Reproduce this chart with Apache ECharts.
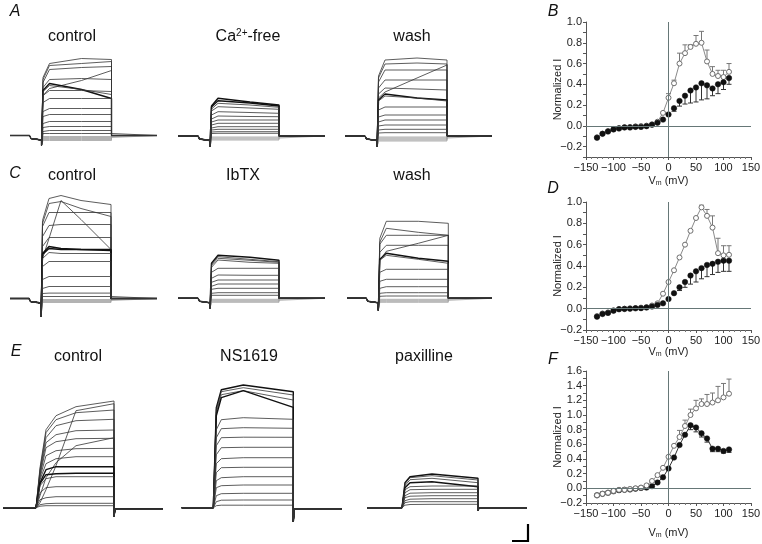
<!DOCTYPE html>
<html>
<head>
<meta charset="utf-8">
<script src="https://cdn.jsdelivr.net/npm/echarts@6/dist/echarts.min.js"></script>
<style>
html,body{margin:0;padding:0;background:#fff}
#chart{width:762px;height:544px}
</style>
</head>
<body>
<div id="chart"></div>
<script>
// ---- current traces: each row = one sweep, values at the panel's sample times ----
var timesA = [1.5, 8, 40, 70];
var timesC = [1.5, 8, 20, 40, 70];
var timesE = [4, 10, 20, 40, 78];
var timesNS = [3, 8, 30, 80];
var timesPax = [3, 8, 30, 76];

var tracesAControl = [
    [58,72,77,76],[56,70,72,74],[53,66,68,69],[48,56,57,56],[40,47,55,65],
    [45,52,46,37],[44,50,46,41],[40,45,45,44],[33,37,37,37],[24,27,27,27],
    [19,21,21,21],[12,14,14,14],[8,9,9,9],[4,5,5,5],[2,2,2,2],
    [-1,-1,-1,-1],[-2,-2,-2,-2],[-3,-3,-3,-3],[-4,-4,-4,-4],[-5,-5,-5,-5]
];
var tracesCaFree = [
    [30,37.7,34,31],[29,35.3,33,30],[27,32.7,31,28.7],[25,29.3,28,26.7],[21,24.3,23.5,22.7],
    [17,20,19.5,19.3],[14,16,16,16],[11,12.7,12.7,12.7],[8,9.3,9.3,9.3],[6,6.7,6.7,6.7],
    [4,4.3,4.3,4.3],[2.5,2.7,2.7,2.7],
    [-1,-1,-1,-1],[-2,-2,-2,-2],[-3,-3,-3,-3],[-4,-4,-4,-4]
];
var tracesAWash = [
    [60,76,78,76],[58,72,73,72],[54,66,66,66],[48,56,56,56],[38,44,58,71],
    [42,48,47,46],[36,42,38,36],[35,40,38,35],[26,29,29,29],[19,21,21,21],
    [14,16,16,16],[10,11,11,11],[6,6.7,6.7,6.7],[3,3.3,3.3,3.3],
    [-1,-1,-1,-1],[-2,-2,-2,-2],[-3,-3,-3,-3],[-4,-4,-4,-4],[-5,-5,-5,-5]
];
var tracesCControl = [
    [78,100,103,98,94],[75,95,97,90,82],[40,60,98,79,49],[72,86,86,86,86],[62,73,74,74,74],
    [52,61,61,61,61],[44,50,49,49,49],[45,52,50,49,48],[40,46,45,45,45],[32,37,37,37,37],
    [19,22,22,22,22],[10,12,12,12,12],[5,5.4,5.4,5.4,5.4],[2,2,2,2,2],
    [-1,-1,-1,-1,-1],[-2,-2,-2,-2,-2],[-3,-3,-3,-3,-3],[-4,-4,-4,-4,-4]
];
var tracesIbTX = [
    [35,43,41,38],[34,41.6,39,36.6],[33,40,38,36],[31,38.3,36,35],[26,30,30,30],
    [20,23.3,23,23],[16,18.3,18.3,18.3],[12,14.3,14.3,14.3],[9,10,10,10],[5,5.6,5.6,5.6],
    [3,3,3,3],
    [-1,-1,-1,-1],[-2,-2,-2,-2],[-3,-3,-3,-3],[-4,-4,-4,-4]
];
var tracesCWash = [
    [60,77,77,75],[56,70,66,63],[54,63,63,63],[38,47,55,63],[46,53,53,53],
    [39,45,40,37],[38,43,39,35],[26,29,29,29],[17,19,19,19],[10,11.6,11.6,11.6],
    [5,5.6,5.6,5.6],[2,2.3,2.3,2.3],
    [-1,-1,-1,-1],[-2,-2,-2,-2],[-3,-3,-3,-3],[-4,-4,-4,-4]
];
var tracesEControl = [
    [40,78,92,101,106.7],[38,75,88,95,97.7],[36,70,82,87,88.4],[34,65,73,77,77.7],[32,60,66,69,69.4],
    [30,52,57,59,59.4],[28,44,49,51,51],[5,18,42,97,104],[12,30,45,62,70],[25,38,41,41,41],
    [24,33,34,34.4,34.4],[22,29,31,31,31],[15,20,21,21,21],[8,10,11,11,11],[3,4,4.4,4.4,4.4],
    [1.5,2,2,2,2]
];
var tracesNS1619 = [
    [100,118,122.7,116],[98,116,120,112.7],[95,113,117,107.7],[92,110,117,100.4],[78,88,90,88.4],
    [70,79,80,79.4],[62,70,70.5,70.4],[53,60,60.4,60.4],[44,49,50,50],[35,40,40.4,40.4],
    [27,30,31,31],[20,22,22.7,22.7],[12,14,14.4,14.4],[6,7.5,7.7,7.7],[2,2.5,2.5,2.5]
];
var tracesPaxilline = [
    [25,31,33.7,29.4],[24,30,32,27.7],[22,28,29.4,25],[20,25,26,21],[18,21,21.7,21.7],
    [15,18,18.4,18.4],[12,14.5,15,15],[10,11.5,12,12],[7,8.5,9,9],[5,6,6,6],
    [2.5,3.2,3.4,3.4]
];

// ---- I-V curves ----
var vm = [-130,-120,-110,-100,-90,-80,-70,-60,-50,-40,-30,-20,-10,0,10,20,30,40,50,60,70,80,90,100,110];

var ivBOpen   = [-0.11,-0.075,-0.05,-0.03,-0.02,-0.012,-0.01,-0.005,-0.002,0.002,0.015,0.04,0.125,0.27,0.41,0.60,0.70,0.76,0.79,0.80,0.62,0.50,0.48,0.47,0.52];
var ivBFilled = [-0.115,-0.077,-0.055,-0.035,-0.026,-0.016,-0.016,-0.01,-0.01,-0.003,0.01,0.03,0.06,0.11,0.17,0.24,0.29,0.34,0.37,0.41,0.39,0.36,0.40,0.42,0.46];
var errBOpen   = [[0,0.31],[10,0.44],[20,0.70],[30,0.78],[40,0.78],[50,0.87],[60,0.91],[70,0.73],[80,0.57],[90,0.535],[100,0.535],[110,0.60]];
var errBFilled = [[10,0.14],[20,0.19],[30,0.21],[40,0.22],[50,0.23],[60,0.25],[70,0.26],[80,0.29],[90,0.31],[100,0.35],[110,0.40]];

var ivDOpen   = [-0.07,-0.045,-0.035,-0.015,-0.003,0,0.003,0.006,0.01,0.015,0.03,0.05,0.14,0.25,0.36,0.48,0.60,0.73,0.85,0.95,0.87,0.76,0.52,0.50,0.505];
var ivDFilled = [-0.075,-0.05,-0.04,-0.02,-0.006,-0.003,0,0.003,0.005,0.01,0.02,0.035,0.05,0.09,0.145,0.20,0.25,0.31,0.35,0.38,0.41,0.42,0.44,0.45,0.45];
var errDOpen   = [[60,0.97],[70,0.93],[80,0.87],[90,0.66],[100,0.59],[110,0.59]];
var errDFilled = [[20,0.17],[30,0.20],[40,0.23],[50,0.25],[60,0.28],[70,0.30],[80,0.32],[90,0.34],[100,0.35],[110,0.35]];

var ivFOpen   = [-0.095,-0.075,-0.06,-0.035,-0.02,-0.02,-0.01,0,0.01,0.04,0.10,0.18,0.28,0.43,0.58,0.70,0.85,1.0,1.09,1.15,1.15,1.17,1.2,1.24,1.29];
var ivFFilled = [-0.095,-0.075,-0.06,-0.04,-0.025,-0.02,-0.015,-0.005,0.005,0.01,0.03,0.08,0.15,0.27,0.42,0.59,0.73,0.86,0.83,0.75,0.68,0.54,0.54,0.51,0.53];
var errFOpen   = [[20,0.79],[30,0.93],[40,1.08],[50,1.2],[60,1.22],[70,1.28],[80,1.3],[90,1.39],[100,1.43],[110,1.49]];
var errFFilled = [[40,0.80],[50,0.77],[60,0.70],[70,0.63],[80,0.50],[90,0.50],[100,0.48],[110,0.49]];

var xTicks = [-150, -100, -50, 0, 50, 100, 150];

// ---- layout ----
var FONT = '"Liberation Sans", Arial, Helvetica, sans-serif';
var preA = function(spike){ return [[-12,0],[-10.5,-3],[-9,-4.5],[0,-4.5],[0,spike]]; };
var postFlat = [[0,0]];

var tracePanels = [
    {data: tracesAControl, times: timesA, on: 41.5, x0: 10, x1: 157, base: 135.5, pre: preA(-10), post: postFlat, bold: [5]},
    {data: tracesCaFree, times: [1.5, 8, 40, 69], on: 210, x0: 178, x1: 325, base: 136, pre: preA(-11), post: postFlat, bold: [0, 1]},
    {data: tracesAWash, times: timesA, on: 377, x0: 345, x1: 492, base: 136, pre: preA(-11), post: postFlat, bold: [6]},
    {data: tracesCControl, times: timesC, on: 41, x0: 10, x1: 157, base: 298.5, pre: preA(-18), post: postFlat, bold: [6, 7]},
    {data: tracesIbTX, times: [1.5, 8, 40, 69], on: 210, x0: 178, x1: 325, base: 298.3, pre: preA(-10), post: postFlat, bold: [0]},
    {data: tracesCWash, times: timesA, on: 378.3, x0: 347, x1: 492, base: 298.3, pre: preA(-12), post: postFlat, bold: [5]},
    {data: tracesEControl, times: timesE, on: 36, x0: 3, x1: 163, base: 507.7, pre: [[0,0]], post: [[0,-9],[1,-1.5]], bold: [9, 10]},
    {data: tracesNS1619, times: timesNS, on: 213.3, x0: 181.7, x1: 342, base: 507.7, pre: [[0,0]], post: [[0,-14],[1,-1.5]], bold: [0, 3]},
    {data: tracesPaxilline, times: timesPax, on: 402, x0: 367, x1: 527, base: 507.7, pre: [[0,0]], post: [[0,-3],[1,0]], bold: [0, 3]}
];

var ivPanels = [
    {top: 22, h: 135, yMin: -0.3, yMax: 1.0, xGap: 17, open: ivBOpen, filled: ivBFilled, errOpen: errBOpen, errFilled: errBFilled, openOnTop: false, filledLine: false},
    {top: 202, h: 128, yMin: -0.2, yMax: 1.0, xGap: 15, open: ivDOpen, filled: ivDFilled, errOpen: errDOpen, errFilled: errDFilled, openOnTop: false, filledLine: false},
    {top: 371, h: 132, yMin: -0.2, yMax: 1.6, xGap: 23, open: ivFOpen, filled: ivFFilled, errOpen: errFOpen, errFilled: errFFilled, openOnTop: true, filledLine: true}
];

var grids = [], xAxes = [], yAxes = [], series = [];

function minus(s){ return String(s).replace('-', '\u2212'); }

tracePanels.forEach(function(p){
    var gi = grids.length,
        tMin = p.x0 - p.on,
        tMax = p.x1 - p.on,
        dur = p.times[p.times.length - 1];

    grids.push({left: p.x0, top: p.base - 130, width: p.x1 - p.x0, height: 155, outerBoundsMode: 'none'});
    xAxes.push({gridIndex: gi, type: 'value', min: tMin, max: tMax, show: false});
    yAxes.push({gridIndex: gi, type: 'value', min: -25, max: 130, show: false});

    p.data.forEach(function(vals, k){
        var pts = [[tMin, 0]].concat(p.pre);
        p.times.forEach(function(t, j){ pts.push([t, vals[j]]); });
        p.post.forEach(function(q){ pts.push([dur + q[0], q[1]]); });
        pts.push([tMax, p.post[p.post.length - 1][1]]);

        var neg = vals[0] < 0,
            bold = p.bold.indexOf(k) >= 0;
        series.push({
            type: 'line', xAxisIndex: gi, yAxisIndex: gi, data: pts,
            symbol: 'none', silent: true, animation: false, z: neg ? 1 : 2,
            lineStyle: {width: bold ? 1.4 : 0.8, color: neg ? '#a0a0a0' : (bold ? '#111' : '#333')}
        });
    });
});

function pairs(ys){ return vm.map(function(v, i){ return [v, ys[i]]; }); }

function errSeries(gi, errs, means, color){
    var data = errs.map(function(e){ return [e[0], e[1], means[vm.indexOf(e[0])]]; });
    return {
        type: 'custom', xAxisIndex: gi, yAxisIndex: gi, data: data, silent: true, animation: false, z: 2,
        renderItem: function(params, api){
            var x = api.value(0),
                end = api.coord([x, api.value(1)]),
                mid = api.coord([x, api.value(2)]);
            return {type: 'group', children: [
                {type: 'line', shape: {x1: mid[0], y1: mid[1], x2: end[0], y2: end[1]}, style: {stroke: color, lineWidth: 1}},
                {type: 'line', shape: {x1: end[0] - 2.5, y1: end[1], x2: end[0] + 2.5, y2: end[1]}, style: {stroke: color, lineWidth: 1}}
            ]};
        }
    };
}

ivPanels.forEach(function(p){
    var gi = grids.length;
    grids.push({left: 586, top: p.top, width: 165, height: p.h, outerBoundsMode: 'none'});
    xAxes.push({
        gridIndex: gi, type: 'value', min: xTicks[0], max: xTicks[xTicks.length - 1], interval: 50,
        name: '{v|V}{m|m}{v| (mV)}', nameLocation: 'middle', nameGap: p.xGap, nameMoveOverlap: false,
        nameTextStyle: {rich: {v: {fontSize: 11, fontFamily: FONT, color: '#222'}, m: {fontSize: 7, fontFamily: FONT, color: '#222', padding: [6, 0, 0, 0]}}},
        axisLine: {onZero: false, lineStyle: {color: '#555', width: 1}},
        axisTick: {length: 3, lineStyle: {color: '#555'}},
        minorTick: {show: true, splitNumber: 5, length: 2, lineStyle: {color: '#777'}},
        splitLine: {show: false},
        axisLabel: {margin: 5, fontSize: 11, fontFamily: FONT, color: '#222', formatter: function(v){ return minus(v); }}
    });
    yAxes.push({
        gridIndex: gi, type: 'value', min: p.yMin, max: p.yMax, interval: 0.1,
        name: 'Normalized I', nameLocation: 'middle', nameGap: 23, nameMoveOverlap: false,
        nameTextStyle: {fontSize: 11, fontFamily: FONT, color: '#222'},
        axisLine: {onZero: false, lineStyle: {color: '#555', width: 1}},
        axisTick: {length: 3, lineStyle: {color: '#555'}},
        splitLine: {show: false},
        axisLabel: {margin: 4, fontSize: 11, fontFamily: FONT, color: '#222', formatter: function(v){
            return Math.round(v * 10) % 2 === 0 ? minus(v.toFixed(1)) : '';
        }}
    });

    var openS = {
        type: 'line', xAxisIndex: gi, yAxisIndex: gi, data: pairs(p.open), animation: false, silent: true,
        symbol: 'circle', symbolSize: 5, z: p.openOnTop ? 4 : 3,
        itemStyle: {color: '#fff', borderColor: '#6f6f6f', borderWidth: 1},
        lineStyle: {color: '#8a8a8a', width: 1}
    };
    var filledS = {
        type: 'line', xAxisIndex: gi, yAxisIndex: gi, data: pairs(p.filled), animation: false, silent: true,
        symbol: 'circle', symbolSize: 5.5, z: p.openOnTop ? 3 : 4,
        itemStyle: {color: '#111', borderColor: '#111', borderWidth: 0.5},
        lineStyle: {color: '#333', width: p.filledLine ? 1 : 0, opacity: p.filledLine ? 1 : 0},
        markLine: {
            silent: true, symbol: 'none', animation: false, label: {show: false},
            lineStyle: {color: '#667777', width: 1, type: 'solid'},
            data: [{xAxis: 0}, {yAxis: 0}]
        }
    };
    series.push(errSeries(gi, p.errOpen, p.open, '#777'));
    series.push(errSeries(gi, p.errFilled, p.filled, '#333'));
    series.push(openS, filledS);
});

function label(text, x, y, size, italic){
    return {type: 'text', x: x, y: y, silent: true, style: {
        text: text, align: 'center', verticalAlign: 'middle', fill: '#111',
        fontSize: size, fontFamily: FONT, fontStyle: italic ? 'italic' : 'normal'
    }};
}

var graphics = [
    label('A', 15, 12, 16, true), label('C', 15, 174, 16, true), label('E', 16, 352, 16, true),
    label('B', 553, 12, 16, true), label('D', 553, 189, 16, true), label('F', 553, 360, 16, true),
    label('control', 72, 37, 16), label('wash', 412, 37, 16),
    label('control', 72, 176, 16), label('IbTX', 243, 176, 16), label('wash', 412, 176, 16),
    label('control', 78, 357, 16), label('NS1619', 249, 357, 16), label('paxilline', 424, 357, 16),
    {type: 'text', x: 248, y: 37, silent: true, style: {
        text: '{n|Ca}{s|2+}{n|-free}', align: 'center', verticalAlign: 'middle',
        rich: {
            n: {fontSize: 16, fontFamily: FONT, fill: '#111', lineHeight: 18},
            s: {fontSize: 10, fontFamily: FONT, fill: '#111', padding: [0, 0, 8, 0]}
        }
    }},
    {type: 'polyline', silent: true, shape: {points: [[528, 524], [528, 541], [512, 541]]},
        style: {stroke: '#000', lineWidth: 2.2, fill: null}}
];

var chart = echarts.init(document.getElementById('chart'));
chart.setOption({
    backgroundColor: '#fff',
    animation: false,
    grid: grids,
    xAxis: xAxes,
    yAxis: yAxes,
    series: series,
    graphic: graphics
});
</script>
</body>
</html>
